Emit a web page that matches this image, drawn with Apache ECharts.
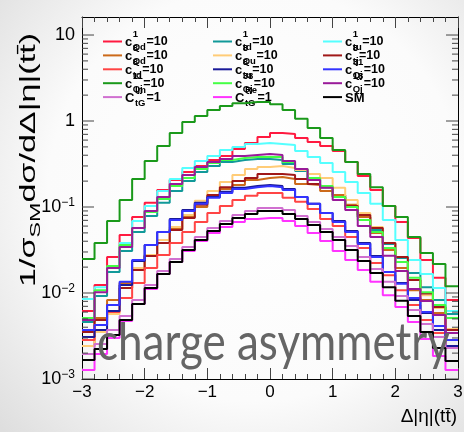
<!DOCTYPE html>
<html><head><meta charset="utf-8">
<script src="https://cdn.jsdelivr.net/npm/echarts@6/dist/echarts.min.js"></script>
<style>html,body{margin:0;padding:0;background:#fff}#c{width:464px;height:432px}</style>
</head><body><div id="c"></div>
<script>
// ---- data ----
const binLow = -3, binWidth = 0.2, nBins = 30;
const xMin = -3, xMax = 3;
const yMin = 0.001, yMax = 16.2;

const c1Qd  = [0.00617,0.0124,0.0262,0.0472,0.0765,0.112,0.158,0.206,0.255,0.299,0.352,0.392,0.472,0.554,0.651,0.725,0.706,0.634,0.57,0.512,0.448,0.334,0.229,0.158,0.103,0.0669,0.0436,0.0242,0.015,0.0083];
const c1td  = [0.0046,0.00924,0.0175,0.0308,0.0512,0.0786,0.112,0.154,0.2,0.255,0.299,0.334,0.352,0.362,0.362,0.352,0.316,0.262,0.217,0.17,0.137,0.103,0.0765,0.054,0.0371,0.0255,0.0171,0.0117,0.0083,0.0057];
const c1tu  = [0.00853,0.0117,0.0201,0.0381,0.0687,0.103,0.154,0.212,0.284,0.343,0.392,0.46,0.499,0.54,0.554,0.54,0.526,0.448,0.382,0.325,0.255,0.195,0.146,0.109,0.0706,0.0413,0.0242,0.0166,0.0114,0.00617];
const c8Qd  = [0.00242,0.00512,0.0083,0.0131,0.019,0.0276,0.0381,0.0555,0.0765,0.1,0.131,0.162,0.18,0.206,0.217,0.223,0.212,0.185,0.18,0.154,0.138,0.106,0.0765,0.0498,0.0316,0.0195,0.0108,0.0083,0.00586,0.00343];
const c8Qu  = [0.00242,0.00352,0.0057,0.0114,0.0195,0.0276,0.0413,0.0585,0.0807,0.118,0.154,0.195,0.235,0.276,0.292,0.299,0.284,0.269,0.242,0.217,0.167,0.121,0.0849,0.0585,0.0381,0.0229,0.0142,0.00944,0.0067,0.00381];
const c8tj  = [0.00352,0.00485,0.00725,0.0114,0.0185,0.0269,0.0381,0.054,0.0745,0.106,0.138,0.17,0.2,0.217,0.242,0.242,0.235,0.212,0.185,0.17,0.131,0.103,0.0807,0.057,0.0381,0.0262,0.0142,0.0099,0.00687,0.00371];
const c8td  = [0.00284,0.00424,0.00601,0.00876,0.0131,0.0195,0.0276,0.0381,0.0512,0.0669,0.0849,0.103,0.121,0.135,0.146,0.146,0.128,0.115,0.0948,0.0725,0.0601,0.0448,0.0333,0.0223,0.0161,0.0108,0.00725,0.00485,0.00343,0.00235];
const c8tu  = [0.00308,0.00371,0.00617,0.0124,0.0236,0.0361,0.0512,0.0725,0.0923,0.112,0.131,0.15,0.167,0.175,0.18,0.175,0.162,0.131,0.109,0.0849,0.0687,0.0526,0.0381,0.0269,0.0175,0.0131,0.0083,0.00586,0.00371,0.00242];
const c31Qj = [0.00371,0.00424,0.00725,0.0135,0.0242,0.0361,0.0512,0.0706,0.0899,0.109,0.128,0.146,0.162,0.17,0.175,0.17,0.158,0.131,0.109,0.0849,0.0669,0.0512,0.0371,0.0262,0.0175,0.0128,0.00876,0.00601,0.00412,0.00284];
const c11Qj = [0.0249,0.0381,0.0687,0.121,0.212,0.343,0.512,0.725,0.976,1.146,1.34,1.49,1.61,1.66,1.66,1.57,1.34,1.06,0.829,0.634,0.46,0.334,0.242,0.17,0.103,0.0765,0.0448,0.0292,0.0217,0.012];
const c38Qj = [0.00512,0.0108,0.0206,0.0361,0.057,0.0875,0.124,0.175,0.217,0.276,0.325,0.352,0.371,0.382,0.382,0.382,0.334,0.276,0.217,0.175,0.131,0.1,0.0706,0.0512,0.0333,0.0229,0.015,0.0102,0.00725,0.00512];
const c18Qj = [0.00485,0.0102,0.0195,0.0343,0.057,0.0899,0.131,0.185,0.235,0.292,0.334,0.362,0.392,0.403,0.414,0.403,0.343,0.276,0.206,0.167,0.121,0.0923,0.0601,0.0448,0.0271,0.018,0.0111,0.00808,0.00555,0.00343];
const CImtG = [0.00195,0.00255,0.00371,0.0054,0.0083,0.0124,0.018,0.0249,0.0343,0.0448,0.057,0.0687,0.0807,0.0899,0.0974,0.0974,0.0923,0.0786,0.0669,0.0555,0.0448,0.0352,0.0262,0.019,0.0135,0.00924,0.00634,0.00436,0.00308,0.00229];
const CRetG = [0.00127,0.00195,0.003,0.00472,0.00746,0.0111,0.0166,0.0229,0.0308,0.0402,0.0498,0.0585,0.0669,0.0725,0.0745,0.0745,0.0687,0.0601,0.0498,0.0402,0.0308,0.0242,0.0185,0.0135,0.00944,0.00687,0.0046,0.00292,0.00185,0.00127];
const SM    = [0.00166,0.00223,0.00325,0.00485,0.00746,0.0114,0.0166,0.0229,0.0316,0.0413,0.0526,0.0634,0.0745,0.0829,0.0899,0.0899,0.0829,0.0725,0.0617,0.0512,0.0413,0.0316,0.0236,0.0171,0.0117,0.0081,0.0054,0.00352,0.00229,0.00162];

const seriesData  = [c1Qd, c1td, c1tu, c8Qd, c8Qu, c8tj, c8td, c8tu, c31Qj, c11Qj, c38Qj, c18Qj, CImtG, CRetG, SM];
const legendBase  = ['c','c','c','c','c','c','c','c','c','c','c','c','C','C','SM'];
const legendSup   = ['1','1','1','8','8','8','8','8','31','11','38','18','Im','Re',''];
const legendSub   = ['Qd','td','tu','Qd','Qu','tj','td','tu','Qj','Qj','Qj','Qj','tG','tG',''];
const legendTail  = ['=10','=10','=10','=10','=10','=10','=10','=10','=10','=10','=10','=10','=1','=1',''];
const colors = ['#ff1a40','#119999','#55ffff','#cc6a1a','#ffcc77','#a01818','#ff4444','#1a1a99','#3333ff','#1a991a','#44ff44','#991a99','#d070d0','#ff33ff','#000000'];

// ---- build ----
const edges = [];
for (let i = 0; i <= nBins; i++) edges.push(+(binLow + i * binWidth).toFixed(4));
function histPoints(vals){
  const pts = vals.map((v,i)=>[edges[i], v]);
  pts.push([edges[nBins], vals[nBins-1]]);
  return pts;
}
const yTickVals = [];
for (let e = -3; e <= 1; e++) for (let k = 1; k <= 9; k++) { const v = k*Math.pow(10,e); if (v <= yMax*1.0001 && v >= yMin*0.9999) yTickVals.push(v); }

const mctx = document.createElement('canvas').getContext('2d');
function tw(t, font){ mctx.font = font; return mctx.measureText(t).width; }

const FF = '"Liberation Sans", Arial, sans-serif';
const fBase = 'bold 13px ' + FF, fSmall = 'bold 9.5px ' + FF, fTail = 'bold 12.5px ' + FF;
const legendEls = [];
const colX = [103, 213, 323];
for (let i = 0; i < seriesData.length; i++) {
  const col = i % 3, row = Math.floor(i/3);
  const x0 = colX[col], y = 41.5 + row*13.9;
  legendEls.push({type:'line', shape:{x1:x0, y1:y, x2:x0+19, y2:y}, style:{stroke:colors[i], lineWidth:2}});
  const xb = x0 + 22;
  legendEls.push({type:'text', x:xb, y:y+1, style:{text:legendBase[i], font:fBase, fill:'#000', verticalAlign:'middle'}});
  const xs = xb + tw(legendBase[i], fBase) + 0.5;
  if (legendSup[i]) legendEls.push({type:'text', x:xs, y:y-7, style:{text:legendSup[i], font:fSmall, fill:'#000', verticalAlign:'middle'}});
  if (legendSub[i]) legendEls.push({type:'text', x:xs, y:y+6, style:{text:legendSub[i], font:fSmall, fill:'#000', verticalAlign:'middle'}});
  const xt = xs + Math.max(tw(legendSup[i], fSmall), tw(legendSub[i], fSmall)) + 0.5;
  if (legendTail[i]) legendEls.push({type:'text', x:xt, y:y, style:{text:legendTail[i], font:fTail, fill:'#000', verticalAlign:'middle'}});
}

function isPow10(v){ const e = Math.round(Math.log10(v)); return Math.abs(v/Math.pow(10,e) - 1) < 1e-6; }

const series = seriesData.map((vals,i)=>({
  type:'line', name:'s'+i, data: histPoints(vals), step:'end', showSymbol:false, symbol:'none',
  xAxisIndex:0, yAxisIndex:0, lineStyle:{color:colors[i], width:2}, itemStyle:{color:colors[i]},
  animation:false, silent:true, z:2+i*0.01
}));
series.push({
  type:'custom', xAxisIndex:0, yAxisIndex:0, silent:true, animation:false, z:10,
  data: yTickVals.map(v=>[xMin, v]),
  renderItem: function(params, api){
    const v = api.value(1);
    const pL = api.coord([xMin, v]), pR = api.coord([xMax, v]);
    const len = isPow10(v) ? 12 : 6;
    return {type:'group', children:[
      {type:'line', shape:{x1:pL[0], y1:pL[1], x2:pL[0]+len, y2:pL[1]}, style:{stroke:'#444', lineWidth:1}},
      {type:'line', shape:{x1:pR[0], y1:pR[1], x2:pR[0]-len, y2:pR[1]}, style:{stroke:'#444', lineWidth:1}}
    ]};
  }
});

const xAxisCommon = {
  type:'value', min:xMin, max:xMax, interval:1,
  axisLine:{show:true, onZero:false, lineStyle:{color:'#000', width:1}},
  axisTick:{show:true, inside:true, length:11, lineStyle:{color:'#444'}},
  minorTick:{show:true, splitNumber:5, length:5, lineStyle:{color:'#444'}},
  splitLine:{show:false}, minorSplitLine:{show:false}
};

// y title: stretched along its length like the reference
const yTitleMain = 22, yTitleSub = 15;
const yTitleLen = tw('1/σ', yTitleMain+'px '+FF) + tw('SM', yTitleSub+'px '+FF) + tw('dσ/dΔ|η|(tt\u0304)', yTitleMain+'px '+FF);
const yTitleScale = 254 / yTitleLen;

const option = {
  animation:false,
  backgroundColor:{type:'radial', x:0.55, y:0.45, r:0.8, colorStops:[{offset:0,color:'#ffffff'},{offset:0.6,color:'#fbfbfb'},{offset:1,color:'#dedede'}]},
  grid:{left:82, right:6, top:17, bottom:53, containLabel:false, outerBoundsMode:'none'},
  xAxis:[
    Object.assign({}, xAxisCommon, {position:'bottom', axisLabel:{show:true, margin:5, fontSize:17, color:'#000', fontFamily:FF,
      formatter:v=> v<0 ? '\u2212'+(-v) : String(v)}}),
    Object.assign({}, xAxisCommon, {position:'top', axisLabel:{show:false}})
  ],
  yAxis:[
    {type:'log', logBase:10, min:yMin, max:yMax, position:'left',
     axisLine:{show:true, onZero:false, lineStyle:{color:'#000'}}, axisTick:{show:false}, splitLine:{show:false},
     axisLabel:{show:true, margin:7, fontSize:18, color:'#000', fontFamily:FF, showMinLabel:true, showMaxLabel:true,
       formatter:function(v){ const e = Math.round(Math.log10(v)); if (!isPow10(v)) return ''; if (e===0) return '1'; if (e===1) return '10'; return '10{sup|\u2212'+(-e)+'}'; },
       rich:{sup:{fontSize:12, verticalAlign:'top', color:'#000', fontFamily:FF, padding:[0,0,8,0]}}}},
    {type:'log', logBase:10, min:yMin, max:yMax, position:'right',
     axisLine:{show:true, onZero:false, lineStyle:{color:'#000'}}, axisTick:{show:false}, splitLine:{show:false}, axisLabel:{show:false}}
  ],
  series: series,
  graphic:[
    {type:'group', children: legendEls, z:100},
    {type:'text', x:27, y:33, rotation:Math.PI/2, scaleX:yTitleScale, z:100, style:{
      text:'{a|1/σ}{s|SM}{a|dσ/dΔ|η|(tt\u0304)}', align:'right', verticalAlign:'middle', fill:'#000',
      rich:{a:{fontSize:yTitleMain, fontFamily:FF, fill:'#000', lineHeight:26, verticalAlign:'bottom'}, s:{fontSize:yTitleSub, fontFamily:FF, fill:'#000', lineHeight:26, verticalAlign:'bottom', padding:[0,0,-3,0]}}}},
    {type:'text', x:457, y:417, z:100, style:{text:'Δ|η|(tt\u0304)', font:'19px '+FF, fill:'#000', align:'right', verticalAlign:'middle'}},
    {type:'text', x:97, y:343, scaleX:0.83, z:110, style:{text:'charge asymmetry', font:'53px Lato', fill:'#656565', verticalAlign:'middle'}}
  ]
};
const chart = echarts.init(document.getElementById('c'), null, {renderer:'canvas'});
chart.setOption(option);
</script></body></html>
